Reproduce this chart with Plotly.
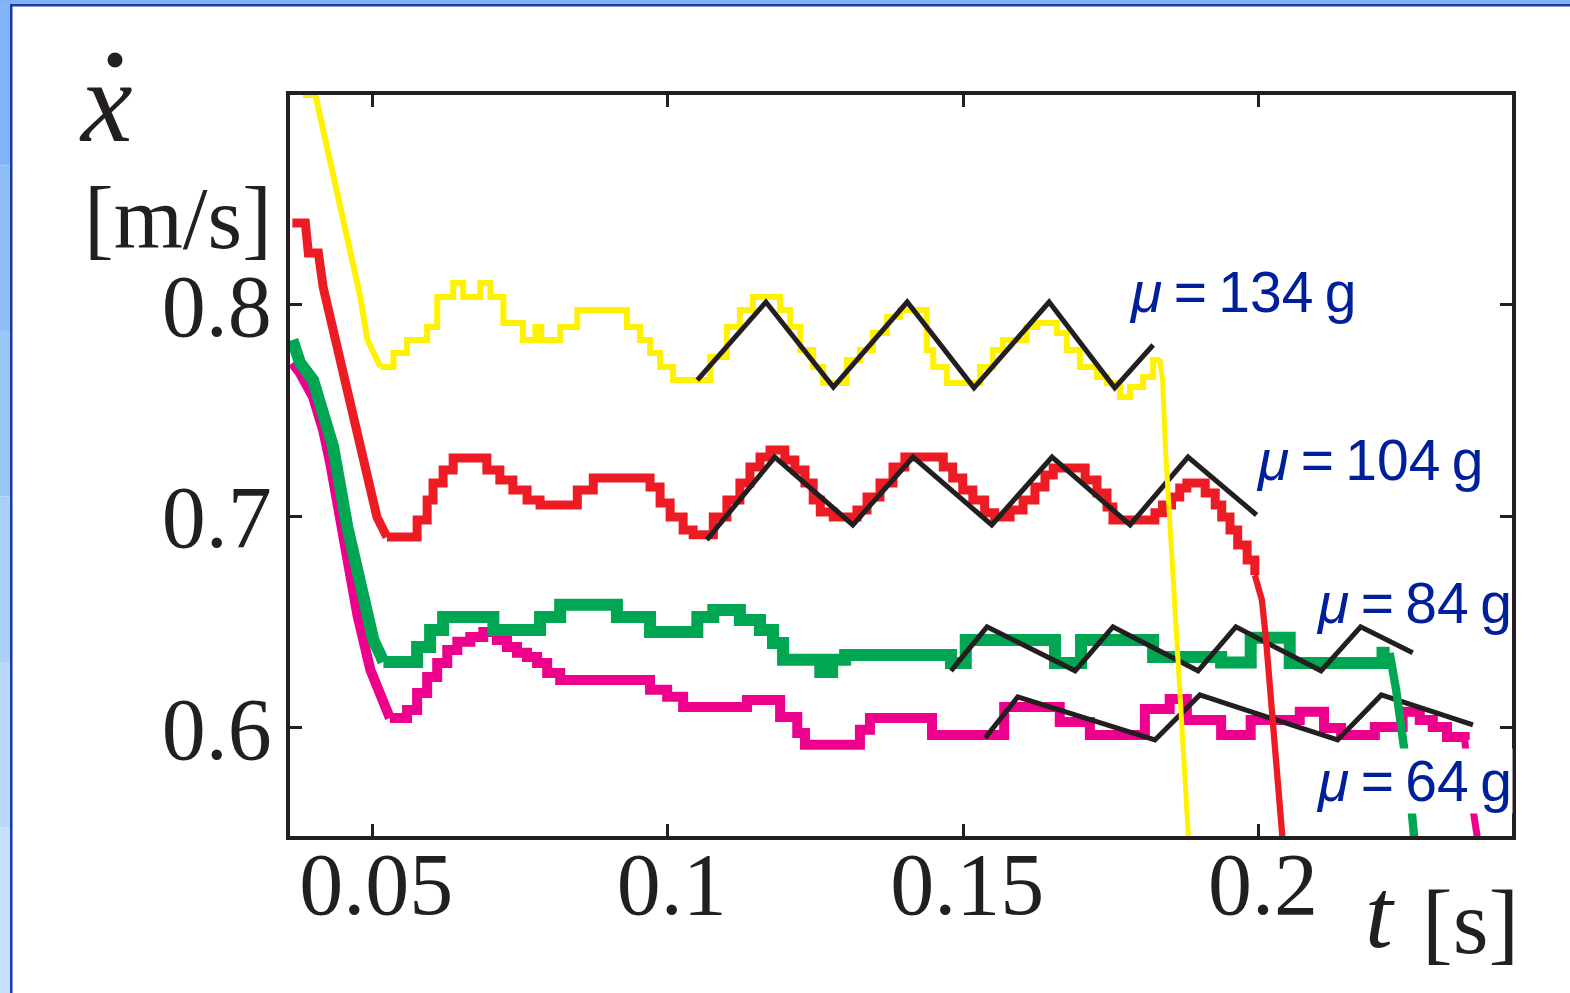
import plotly.graph_objects as go

# ---------------- data ----------------
# mu = 134 g (yellow): initial fall, step-wise record, final fall
t_134_in = [0.0383, 0.0404, 0.0480, 0.0492, 0.0514]
v_134_in = [0.8993, 0.8993, 0.8038, 0.7835, 0.7707]
t_134 = [0.0514, 0.0536, 0.0559, 0.0593, 0.0610, 0.0637, 0.0654, 0.0683, 0.0700, 0.0722,
         0.0755, 0.0776, 0.0786, 0.0818, 0.0847, 0.0931, 0.0953, 0.0970, 0.0987, 0.1009,
         0.1072, 0.1100, 0.1122, 0.1144, 0.1190, 0.1207, 0.1224, 0.1246, 0.1263, 0.1303,
         0.1325, 0.1347, 0.1371, 0.1393, 0.1438, 0.1449, 0.1472, 0.1528, 0.1550, 0.1567,
         0.1607, 0.1625, 0.1658, 0.1675, 0.1697, 0.1726, 0.1743, 0.1765, 0.1782, 0.1804,
         0.1821, 0.1832]
v_134 = [0.7707, 0.7773, 0.7835, 0.7896, 0.8038, 0.8104, 0.8038, 0.8104, 0.8038, 0.7915,
         0.7835, 0.7896, 0.7835, 0.7896, 0.7976, 0.7896, 0.7835, 0.7773, 0.7707, 0.7645,
         0.7754, 0.7896, 0.7976, 0.8038, 0.7976, 0.7896, 0.7787, 0.7707, 0.7631, 0.7740,
         0.7787, 0.7868, 0.7943, 0.7976, 0.7787, 0.7707, 0.7631, 0.7707, 0.7787, 0.7835,
         0.7896, 0.7915, 0.7868, 0.7787, 0.7707, 0.7660, 0.7631, 0.7565, 0.7612, 0.7660,
         0.7740, 0.7745]
t_134_out = [0.1832, 0.1837, 0.1842, 0.1852, 0.1862, 0.1872, 0.1881]
v_134_out = [0.7745, 0.7645, 0.7314, 0.6842, 0.6369, 0.5896, 0.5470]

# mu = 104 g (red)
t_104_in = [0.0365, 0.0387, 0.0392, 0.0409, 0.0417, 0.0458, 0.0492, 0.0508, 0.0525]
v_104_in = [0.8388, 0.8388, 0.8246, 0.8246, 0.8085, 0.7598, 0.7173, 0.6998, 0.6903]
t_104 = [0.0525, 0.0576, 0.0593, 0.0603, 0.0620, 0.0637, 0.0694, 0.0716, 0.0738, 0.0762,
         0.0784, 0.0847, 0.0874, 0.0970, 0.0987, 0.1004, 0.1026, 0.1043, 0.1077, 0.1100,
         0.1122, 0.1139, 0.1156, 0.1173, 0.1198, 0.1215, 0.1232, 0.1246, 0.1258, 0.1280,
         0.1320, 0.1337, 0.1359, 0.1381, 0.1401, 0.1466, 0.1482, 0.1499, 0.1516, 0.1536,
         0.1553, 0.1579, 0.1601, 0.1621, 0.1638, 0.1652, 0.1706, 0.1726, 0.1743, 0.1753,
         0.1824, 0.1837, 0.1852, 0.1866, 0.1878, 0.1909, 0.1926, 0.1937, 0.1951, 0.1964,
         0.1980, 0.1993]
v_104 = [0.6903, 0.6983, 0.7078, 0.7158, 0.7220, 0.7277, 0.7220, 0.7173, 0.7125, 0.7078,
         0.7054, 0.7125, 0.7182, 0.7139, 0.7064, 0.6998, 0.6936, 0.6913, 0.6998, 0.7078,
         0.7158, 0.7234, 0.7281, 0.7314, 0.7267, 0.7220, 0.7158, 0.7078, 0.7021, 0.6998,
         0.7031, 0.7092, 0.7158, 0.7234, 0.7281, 0.7234, 0.7182, 0.7125, 0.7078, 0.7017,
         0.6998, 0.7031, 0.7078, 0.7139, 0.7196, 0.7229, 0.7173, 0.7111, 0.7045, 0.6983,
         0.7017, 0.7054, 0.7092, 0.7135, 0.7158, 0.7111, 0.7054, 0.6998, 0.6936, 0.6865,
         0.6794, 0.6723]
t_104_out = [0.1993, 0.2005, 0.2012, 0.2020, 0.2030, 0.2040]
v_104_out = [0.6723, 0.6605, 0.6416, 0.6132, 0.5801, 0.5470]

# mu = 84 g (green)
t_84_in = [0.0365, 0.0378, 0.0400, 0.0434, 0.0458, 0.0483, 0.0502, 0.0514, 0.0519]
v_84_in = [0.7835, 0.7726, 0.7645, 0.7329, 0.6950, 0.6629, 0.6416, 0.6345, 0.6312]
t_84 = [0.0519, 0.0576, 0.0598, 0.0620, 0.0705, 0.0784, 0.0818, 0.0914, 0.0970, 0.1050,
        0.1077, 0.1122, 0.1156, 0.1178, 0.1195, 0.1258, 0.1278, 0.1300, 0.1479, 0.1504,
        0.1655, 0.1699, 0.1821, 0.1936, 0.1986, 0.2052, 0.2209, 0.2221]
v_84 = [0.6312, 0.6383, 0.6463, 0.6525, 0.6463, 0.6525, 0.6582, 0.6525, 0.6454, 0.6525,
        0.6558, 0.6511, 0.6463, 0.6402, 0.6322, 0.6265, 0.6322, 0.6345, 0.6307, 0.6416,
        0.6307, 0.6416, 0.6336, 0.6310, 0.6426, 0.6307, 0.6355, 0.6355]
t_84_out = [0.2221, 0.2226, 0.2232, 0.2239, 0.2246, 0.2255, 0.2263]
v_84_out = [0.6355, 0.6288, 0.6180, 0.6038, 0.5896, 0.5707, 0.5470]

# mu = 64 g (magenta)
t_64_in = [0.0365, 0.0378, 0.0400, 0.0417, 0.0429, 0.0451, 0.0475, 0.0497, 0.0519, 0.0530]
v_64_in = [0.7726, 0.7678, 0.7565, 0.7409, 0.7253, 0.6913, 0.6534, 0.6274, 0.6118, 0.6047]
t_64 = [0.0530, 0.0559, 0.0576, 0.0593, 0.0610, 0.0627, 0.0644, 0.0666, 0.0688, 0.0711,
        0.0728, 0.0745, 0.0762, 0.0779, 0.0796, 0.0818, 0.0970, 0.0999, 0.1026, 0.1134,
        0.1190, 0.1219, 0.1232, 0.1325, 0.1342, 0.1447, 0.1569, 0.1663, 0.1714, 0.1807,
        0.1849, 0.1878, 0.1936, 0.1986, 0.2069, 0.2110, 0.2139, 0.2196, 0.2243, 0.2272,
        0.2294, 0.2318, 0.2348]
v_64 = [0.6047, 0.6085, 0.6165, 0.6241, 0.6307, 0.6369, 0.6407, 0.6430, 0.6454, 0.6416,
        0.6383, 0.6355, 0.6336, 0.6307, 0.6260, 0.6227, 0.6180, 0.6147, 0.6099, 0.6132,
        0.6052, 0.5976, 0.5920, 0.5991, 0.6047, 0.5967, 0.6099, 0.6028, 0.5967, 0.6090,
        0.6137, 0.6038, 0.5967, 0.6038, 0.6076, 0.6000, 0.5967, 0.6005, 0.6076, 0.6038,
        0.6005, 0.5957, 0.5943]
t_64_out = [0.2348, 0.2357, 0.2370]
v_64_out = [0.5943, 0.5707, 0.5470]

# model (sawtooth) curves, black
fit_t_134 = [0.1050, 0.1166, 0.1280, 0.1405, 0.1518, 0.1645, 0.1756, 0.1821]
fit_v_134 = [0.7645, 0.8014, 0.7612, 0.8014, 0.7608, 0.8014, 0.7608, 0.7811]
fit_t_104 = [0.1066, 0.1181, 0.1313, 0.1415, 0.1548, 0.1650, 0.1782, 0.1880, 0.1996]
fit_v_104 = [0.6889, 0.7281, 0.6960, 0.7281, 0.6960, 0.7281, 0.6960, 0.7281, 0.7007]
fit_t_84 = [0.1479, 0.1540, 0.1689, 0.1753, 0.1897, 0.1961, 0.2105, 0.2172, 0.2260]
fit_v_84 = [0.6270, 0.6478, 0.6270, 0.6478, 0.6270, 0.6478, 0.6270, 0.6478, 0.6355]
fit_t_64 = [0.1537, 0.1592, 0.1824, 0.1900, 0.2133, 0.2207, 0.2362]
fit_v_64 = [0.5953, 0.6147, 0.5943, 0.6156, 0.5943, 0.6156, 0.6014]

x_ticks = [0.05, 0.1, 0.15, 0.2]
x_tick_text = ["0.05", "0.1", "0.15", "0.2"]
y_ticks = [0.6, 0.7, 0.8]
y_tick_text = ["0.6", "0.7", "0.8"]

labels = ["134", "104", "84", "64"]

# ---------------- styling ----------------
INK = "#231f20"
BLUE_TXT = "#00209b"
W, H = 1570, 993
L, R, T, B = 290, 58, 95, 157
PW, PH = W - L - R, H - T - B


def px(x):
    return (x - L) / PW


def py(y):
    return (H - B - y) / PH


fig = go.Figure()

series = [
    ((t_64_in, v_64_in), (t_64, v_64), (t_64_out, v_64_out), (fit_t_64, fit_v_64), "#ec008c", 10),
    ((t_84_in, v_84_in), (t_84, v_84), (t_84_out, v_84_out), (fit_t_84, fit_v_84), "#00a651", 12),
    ((t_104_in, v_104_in), (t_104, v_104), (t_104_out, v_104_out), (fit_t_104, fit_v_104), "#ed1c24", 9),
    ((t_134_in, v_134_in), (t_134, v_134), (t_134_out, v_134_out), (fit_t_134, fit_v_134), "#fff200", 6),
]
for ramp_in, steps, ramp_out, fit, col, lw in series:
    fig.add_trace(go.Scatter(x=ramp_in[0], y=ramp_in[1], mode="lines",
                             line=dict(color=col, width=lw), hoverinfo="skip"))
    fig.add_trace(go.Scatter(x=steps[0], y=steps[1], mode="lines",
                             line=dict(color=col, width=lw, shape="hv"), hoverinfo="skip"))
    fig.add_trace(go.Scatter(x=ramp_out[0], y=ramp_out[1], mode="lines",
                             line=dict(color=col, width=max(5, lw * 0.7)), hoverinfo="skip"))
    fig.add_trace(go.Scatter(x=fit[0], y=fit[1], mode="lines",
                             line=dict(color=INK, width=5), hoverinfo="skip"))

axis_common = dict(showline=True, linewidth=3.5, linecolor=INK, mirror="allticks",
                   ticks="inside", ticklen=12, tickwidth=3, tickcolor=INK,
                   showgrid=False, zeroline=False,
                   tickfont=dict(family="Liberation Serif", size=88, color=INK))

fig.update_xaxes(range=[0.0361, 0.2428], tickvals=x_ticks, ticktext=x_tick_text,
                 ticklabelstandoff=-31, ticklabelshift=4, **axis_common)
fig.update_yaxes(range=[0.5489, 0.8993], tickvals=y_ticks, ticktext=y_tick_text,
                 ticklabelstandoff=-3, **axis_common)

ann = []
label_pos = [  # left pixel x, centre pixel y
    (1128, 292, False),
    (1255, 460, False),
    (1315, 603, False),
    (1315, 781, True),
]
for lab, (lx, ly, bg) in zip(labels, label_pos):
    ann.append(dict(x=px(lx), y=py(ly), xref="paper", yref="paper", xanchor="left", yanchor="middle",
                    text="<i>\u03bc</i>\u2009=\u2009" + lab + "\u2009g", showarrow=False,
                    font=dict(family="Liberation Sans", size=57, color=BLUE_TXT),
                    bgcolor="white" if bg else "rgba(0,0,0,0)", borderpad=0))

# axis titles
ann.append(dict(x=px(106), y=py(102), xref="paper", yref="paper", xanchor="center", yanchor="middle",
                text="<i>x</i>", showarrow=False,
                font=dict(family="Liberation Serif", size=116, color=INK)))
ann.append(dict(x=px(178), y=py(218), xref="paper", yref="paper", xanchor="center", yanchor="middle",
                text="[m/s]", showarrow=False,
                font=dict(family="Liberation Serif", size=89, color=INK)))
ann.append(dict(x=px(1380), y=py(914), xref="paper", yref="paper", xanchor="center", yanchor="middle",
                text="<i>t</i>", showarrow=False,
                font=dict(family="Liberation Serif", size=100, color=INK)))
ann.append(dict(x=px(1470), y=py(922), xref="paper", yref="paper", xanchor="center", yanchor="middle",
                text="[s]", showarrow=False,
                font=dict(family="Liberation Serif", size=92, color=INK)))

# decorative slide frame (light-blue gradient strip + dark-blue rule) and the dot of x-dot
frame_cols = ["#82b5f7", "#8fbdf8", "#9cc6f9", "#aacffb", "#b8d9fd", "#c5e1fe"]
shapes = []
band = H / len(frame_cols)
for i, c in enumerate(frame_cols):
    shapes.append(dict(type="rect", xref="paper", yref="paper", x0=px(0), x1=px(10),
                       y0=py((i + 1) * band), y1=py(i * band),
                       fillcolor=c, line=dict(width=0), layer="below"))
shapes += [
    dict(type="rect", xref="paper", yref="paper", x0=px(0), x1=px(W), y0=py(4), y1=py(0),
         fillcolor="#7fb2f7", line=dict(width=0), layer="below"),
    dict(type="rect", xref="paper", yref="paper", x0=px(10), x1=px(12.5), y0=py(H), y1=py(4),
         fillcolor="#1a3aa6", line=dict(width=0), layer="below"),
    dict(type="rect", xref="paper", yref="paper", x0=px(10), x1=px(W), y0=py(6.5), y1=py(4),
         fillcolor="#1a3aa6", line=dict(width=0), layer="below"),
    dict(type="circle", xref="paper", yref="paper", xsizemode="pixel", ysizemode="pixel",
         xanchor=px(115), yanchor=py(60), x0=-7.5, x1=7.5, y0=-7.5, y1=7.5,
         fillcolor=INK, line=dict(width=0)),
]

fig.update_layout(width=W, height=H, margin=dict(l=L, r=R, t=T, b=B),
                  paper_bgcolor="white", plot_bgcolor="white", showlegend=False,
                  annotations=ann, shapes=shapes)

fig.write_html("out.html", config={"displayModeBar": False},
               post_script="document.body.style.margin='0px';")
